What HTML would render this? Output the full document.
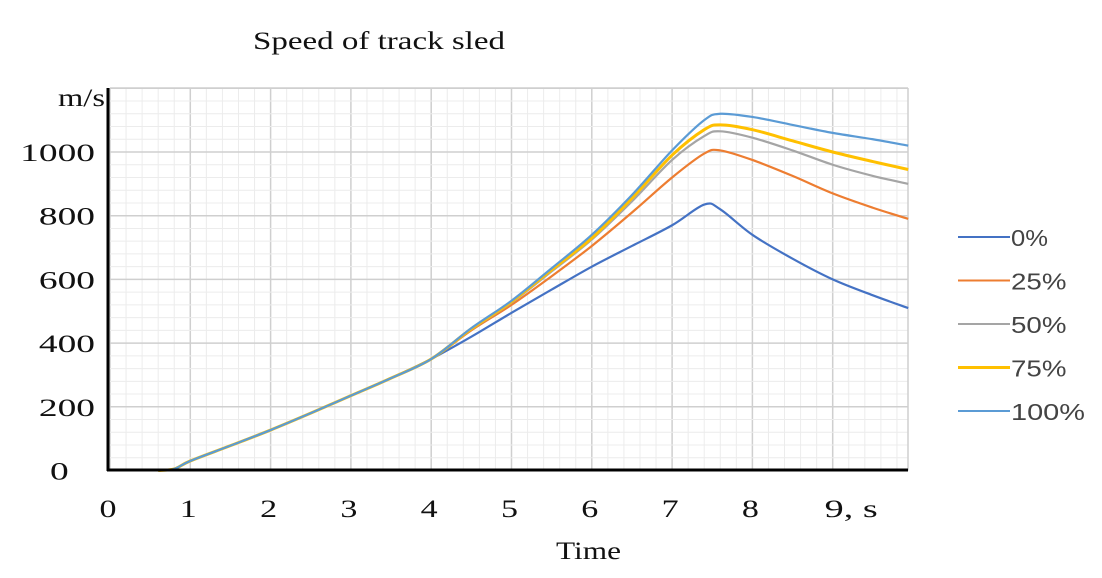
<!DOCTYPE html>
<html><head><meta charset="utf-8"><style>
html,body{margin:0;padding:0;background:#fff;}
svg{display:block;}
.ax{font-family:"Liberation Serif",serif;font-size:25px;fill:#111;}
.lg{font-family:"Liberation Sans",sans-serif;font-size:23px;fill:#444;}
</style></head><body>
<svg id="c" width="1102" height="578" viewBox="0 0 1102 578">
<text x="253" y="49" class="ax" textLength="252" lengthAdjust="spacingAndGlyphs">Speed of track sled</text>
<text x="58" y="106" class="ax" textLength="47" lengthAdjust="spacingAndGlyphs">m/s</text>
<text x="556" y="559" class="ax" textLength="65" lengthAdjust="spacingAndGlyphs">Time</text>
<g id="grid"></g><g id="series"></g><g id="axes"></g><g id="legend"></g>
</svg>
<script>
const seriesNames = ["0%","25%","50%","75%","100%"];
const seriesColors = ["#4472c4","#ed7d31","#a5a5a5","#ffc000","#5b9bd5"];
const commonT = [0.6,0.8,1,1.5,2,2.5,3,3.5,4];
const commonV = [0,5,30,78,127,180,235,290,350];
const times = [4.5,5,5.5,6,6.5,7,7.4,7.6,8,8.5,9,9.5,9.94];
const s0   = [420,495,568,640,705,770,835,820,740,665,600,550,510];
const s25  = [440,520,610,705,810,920,995,1005,975,925,870,825,790];
const s50  = [443,527,625,725,845,975,1050,1065,1045,1005,960,925,900];
const s75  = [445,530,630,730,855,990,1070,1085,1070,1035,1000,970,945];
const s100 = [447,533,635,740,865,1005,1100,1120,1110,1085,1060,1040,1020];
const seriesVals = [s0,s25,s50,s75,s100];
const xTicks = ["0","1","2","3","4","5","6","7","8","9, s"];
const yTicks = [0,200,400,600,800,1000];

const NS="http://www.w3.org/2000/svg";
const X0=110, XU=80.3, Y0=470.5, YU=0.3185, R=908, T=88;
const xs=t=>X0+XU*t, ys=v=>Y0-YU*v;
function mk(tag,attrs,parent){const e=document.createElementNS(NS,tag);for(const k in attrs)e.setAttribute(k,attrs[k]);parent.appendChild(e);return e;}
const grid=document.getElementById('grid'), axes=document.getElementById('axes'), ser=document.getElementById('series'), leg=document.getElementById('legend');
for(let i=0;i<=50;i++){const x=xs(i/5); if(x>R)break;
  const l=mk('line',{x1:x,x2:x,y1:T,y2:Y0,stroke:i%5?'#ececec':'#cfcfcf','stroke-width':i%5?1:1.5},grid);
  
  }
for(let v=0;v<=1200;v+=40){const y=ys(v); if(y<T-1)break;
  const l=mk('line',{x1:X0,x2:R,y1:y,y2:y,stroke:v%200?'#ececec':'#cfcfcf','stroke-width':v%200?1:1.5},grid);
  
  }
mk('line',{x1:R,x2:R,y1:T,y2:Y0,stroke:'#cfcfcf','stroke-width':1.5},grid);
mk('line',{x1:X0,x2:R,y1:T,y2:T,stroke:'#cfcfcf','stroke-width':1.5},grid);
const ya=mk('line',{x1:108,x2:108,y1:T,y2:471,stroke:'#000','stroke-width':3},axes);


const xa=mk('line',{x1:107,x2:R,y1:470,y2:470,stroke:'#000','stroke-width':3},axes);


xTicks.forEach((s,i)=>{
  const w=i==9?53:17;
  const x=i==9?xs(9)-8:xs(i)-2-w/2;
  const t=mk('text',{x:x,y:517,class:'ax',textLength:w,lengthAdjust:'spacingAndGlyphs'},axes);t.textContent=s;
  
  });
yTicks.forEach(v=>{const s=String(v);const w=s.length*18.7;
  const x=v==0?50:95-w;
  const t=mk('text',{x:x,y:ys(v)+9,class:'ax',textLength:w,lengthAdjust:'spacingAndGlyphs'},axes);t.textContent=s;
  
  });
function path(pts){let d='M'+pts[0][0]+','+pts[0][1];
  for(let i=0;i<pts.length-1;i++){const p0=pts[i-1]||pts[i],p1=pts[i],p2=pts[i+1],p3=pts[i+2]||p2;
    const c1=[p1[0]+(p2[0]-p0[0])/6,p1[1]+(p2[1]-p0[1])/6],c2=[p2[0]-(p3[0]-p1[0])/6,p2[1]-(p3[1]-p1[1])/6];
    d+=' C'+c1+' '+c2+' '+p2;}return d;}
seriesVals.forEach((vals,k)=>{
  const T2=commonT.concat(times), V2=commonV.concat(vals);
  const pts=T2.map((t,i)=>[xs(t),ys(V2[i])]);
  const p=mk('path',{d:path(pts),fill:'none',stroke:seriesColors[k],'stroke-width':k==3?3:2.2},ser);
  
  
});
seriesNames.forEach((n,k)=>{const y=237+k*43.5;
  const g=mk('g',{},leg);
  
  
  mk('line',{x1:958,x2:1010,y1:y,y2:y,stroke:seriesColors[k],'stroke-width':k==3?3:2},g);
  const t=mk('text',{x:1011,y:y+9,class:'lg',textLength:n.length*18.5,lengthAdjust:'spacingAndGlyphs'},g);t.textContent=n;});
</script>
</body></html>
